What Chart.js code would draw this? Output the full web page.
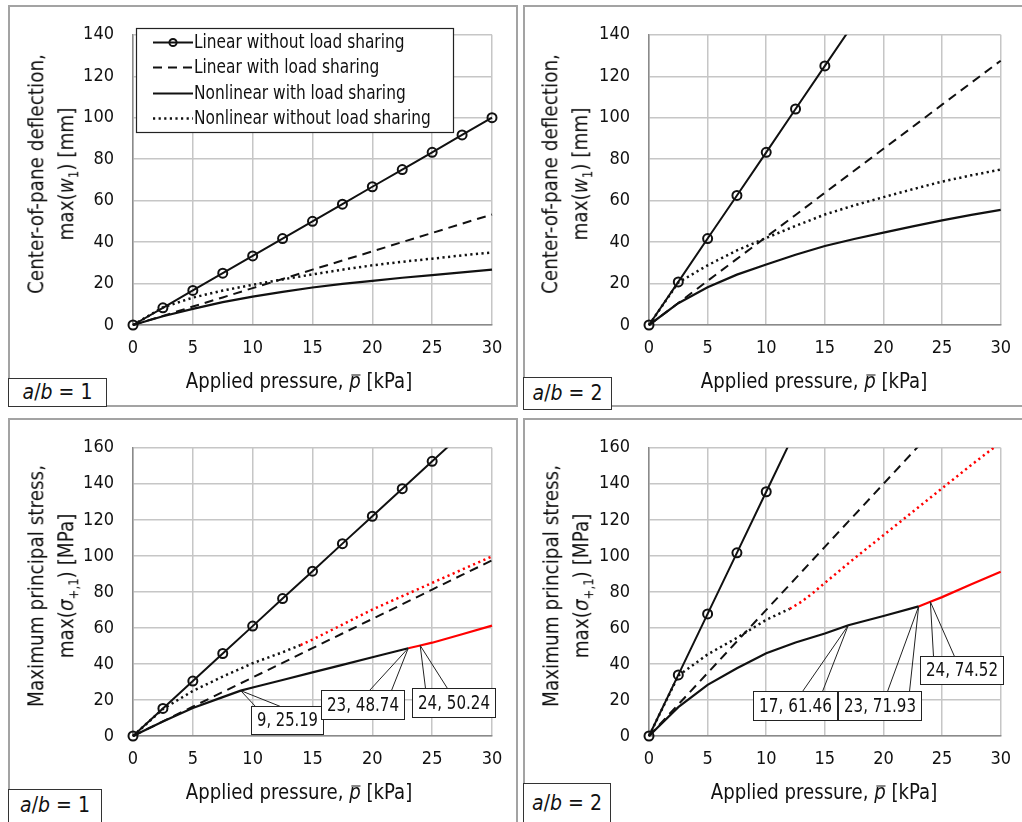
<!DOCTYPE html>
<html>
<head>
<meta charset="utf-8">
<script src="https://cdn.jsdelivr.net/npm/chart.js@4.4.0/dist/chart.umd.min.js"></script>
<style>
  body { margin: 0; width: 1022px; height: 822px; position: relative; overflow: hidden; background: #fff;
         font-family: 'Liberation Sans Narrow', 'Arial Narrow', 'DejaVu Sans Condensed', sans-serif; color: #111; }
  .frame { position: absolute; border: 2px solid #a3a3a3; box-sizing: border-box; }
  canvas { position: absolute; }
  .ytitle { position: absolute; transform: translate(-50%, -50%) rotate(-90deg) scaleX(0.93); white-space: nowrap;
            text-align: center; font-size: 22px; line-height: 30px; }
  .xtitle { position: absolute; transform: translate(-50%, -50%) scaleX(0.915); white-space: nowrap; font-size: 22px; }
  .ratio { position: absolute; border: 1.5px solid #333; box-sizing: border-box; background: #fff;
           font-size: 21px; text-align: center; }
  .pbar { position: relative; font-style: italic; }
  .pbar::after { content: ''; position: absolute; left: 0.12em; right: 0; top: 0.3em; border-top: 1.5px solid #111; }
  sub { font-size: 14px; }
</style>
</head>
<body>
<div class="frame" style="left:8px;top:5px;width:510px;height:402px"></div>
<div class="frame" style="left:523px;top:5px;width:501px;height:402px"></div>
<div class="frame" style="left:8px;top:418px;width:510px;height:406px"></div>
<div class="frame" style="left:523px;top:418px;width:501px;height:406px"></div>

<canvas id="c1" width="510" height="402" style="left:8px;top:5px"></canvas>
<canvas id="c2" width="501" height="402" style="left:523px;top:5px"></canvas>
<canvas id="c3" width="510" height="406" style="left:8px;top:418px"></canvas>
<canvas id="c4" width="501" height="406" style="left:523px;top:418px"></canvas>

<div class="ytitle" style="left:55px;top:174px">Center-of-pane deflection,<br>max(<i>w</i><sub>1</sub>) [mm]</div>
<div class="ytitle" style="left:569px;top:174px">Center-of-pane deflection,<br>max(<i>w</i><sub>1</sub>) [mm]</div>
<div class="ytitle" style="left:55px;top:586px">Maximum principal stress,<br>max(<i>σ</i><sub>+,1</sub>) [MPa]</div>
<div class="ytitle" style="left:570px;top:586px">Maximum principal stress,<br>max(<i>σ</i><sub>+,1</sub>) [MPa]</div>

<div class="xtitle" style="left:299px;top:380px">Applied pressure, <span class="pbar">p</span> [kPa]</div>
<div class="xtitle" style="left:814px;top:380px">Applied pressure, <span class="pbar">p</span> [kPa]</div>
<div class="xtitle" style="left:299px;top:791px">Applied pressure, <span class="pbar">p</span> [kPa]</div>
<div class="xtitle" style="left:824px;top:791px">Applied pressure, <span class="pbar">p</span> [kPa]</div>

<div class="ratio" style="left:8px;top:378px;width:99px;height:29px;line-height:27px"><i>a</i>/<i>b</i> = 1</div>
<div class="ratio" style="left:523px;top:377px;width:89px;height:33px;line-height:31px"><i>a</i>/<i>b</i> = 2</div>
<div class="ratio" style="left:8px;top:789px;width:94px;height:40px;line-height:30px"><i>a</i>/<i>b</i> = 1</div>
<div class="ratio" style="left:523px;top:783px;width:88px;height:45px;line-height:38px"><i>a</i>/<i>b</i> = 2</div>

<script>
// applied pressure steps [kPa]
const pLin = [0, 2.5, 5, 7.5, 10, 12.5, 15, 17.5, 20, 22.5, 25, 27.5, 30];

// center-of-pane deflection [mm], a/b = 1
const w1LinNoShare = [0, 8.3, 16.7, 25, 33.3, 41.7, 50, 58.3, 66.7, 75, 83.3, 91.7, 100];
const w1LinShare   = [0, 4.4, 8.9, 13.3, 17.8, 22.2, 26.7, 31.1, 35.5, 40, 44.4, 48.9, 53.3];
const w1NlShare    = [0, 4.2, 7.8, 11, 13.7, 16, 18.1, 19.8, 21.3, 22.8, 24.1, 25.4, 26.7];
const w1NlNoShare  = [0, 8.5, 13.2, 16.6, 19.4, 22, 24.4, 26.7, 28.8, 30.5, 32, 33.6, 35];

// center-of-pane deflection [mm], a/b = 2
const w2LinNoShare = [0, 20.8, 41.7, 62.5, 83.3, 104.2, 125, 145.8];
const w2LinShare   = [0, 10.6, 21.3, 31.9, 42.5, 53.1, 63.8, 74.4, 85, 95.6, 106.3, 116.9, 127.5];
const w2NlShare    = [0, 10.5, 18.2, 24.3, 29.2, 33.9, 38.1, 41.5, 44.6, 47.6, 50.5, 53.1, 55.5];
const w2NlNoShare  = [0, 20.5, 28.8, 36, 42, 47.8, 53.3, 57.7, 61.7, 65.5, 69.2, 72.2, 75];

// maximum principal stress [MPa], a/b = 1
const s1LinNoShare = [0, 15.3, 30.5, 45.8, 61, 76.3, 91.5, 106.8, 122, 137.3, 152.5, 167.8];
const s1LinShare   = [0, 8.1, 16.3, 24.4, 32.5, 40.6, 48.8, 56.9, 65, 73.1, 81.3, 89.4, 97.5];
const pNl1         = [0, 2.5, 5, 7.5, 9, 10, 12.5, 15, 17.5, 20, 22.5, 23, 24, 25, 27.5, 30];
const s1NlShare    = [0, 8, 15.5, 21.6, 25.19, 26.9, 31.1, 35.3, 39.5, 43.7, 47.9, 48.74, 50.24, 51.8, 56.5, 61.3];
const pNo1         = [0, 2.5, 5, 7.5, 10, 12.5, 14, 15, 17.5, 20, 22.5, 25, 27.5, 30];
const s1NlNoShare  = [0, 15, 25, 33, 40.4, 46.5, 50.5, 53.5, 61.8, 70.2, 77.6, 85, 92.4, 99.7];

// maximum principal stress [MPa], a/b = 2
const s2LinNoShare = [0, 33.9, 67.8, 101.7, 135.6, 169.5];
const s2LinShare   = [0, 17.5, 35, 52.5, 70, 87.5, 105, 122.5, 140, 157.5, 175];
const pNl2         = [0, 2.5, 5, 7.5, 10, 12.5, 15, 17, 20, 23, 24, 25, 27.5, 30];
const s2NlShare    = [0, 16, 28.4, 37.6, 45.9, 51.9, 56.9, 61.46, 66.6, 71.93, 74.52, 77.1, 84.2, 91.2];
const pNo2         = [0, 2.5, 5, 7.5, 10, 12, 13, 14, 15, 17.5, 20, 22.5, 25, 27.5, 30];
const s2NlNoShare  = [0, 33.5, 45.3, 54.5, 64.5, 70.6, 74.5, 79.5, 85, 98.5, 111.5, 124.5, 137.5, 150.5, 163];

// pressure from which the nonlinear curves turn red
const redNlShare1 = 23, redNlNoShare1 = 14;
const redNlShare2 = 23, redNlNoShare2 = 12;

// labelled points on the nonlinear-with-sharing curves
const marks1 = [9, 23, 24];
const marks2 = [17, 23, 24];

const seriesNames = ['Linear without load sharing', 'Linear with load sharing',
                     'Nonlinear with load sharing', 'Nonlinear without load sharing'];
const yTicks1 = [0, 140, 20];
const yTicks2 = [0, 160, 20];

const FONT = "'Liberation Sans Narrow', 'Arial Narrow', 'DejaVu Sans Condensed', sans-serif";
const CLIP = { left: 8, top: 0, right: 8, bottom: 8 };

function pts(xs, ys) {
  const n = Math.min(xs.length, ys.length);
  const out = [];
  for (let i = 0; i < n; i++) out.push({ x: xs[i], y: ys[i] });
  return out;
}

function redFrom(limit, base) {
  return ctx => (limit != null && ctx.p0.parsed.x >= limit) ? '#ff0000' : base;
}

function buildSets(linNo, linSh, nlShX, nlSh, nlNoX, nlNo, redSh, redNo) {
  return [
    { label: seriesNames[0], data: pts(pLin, linNo), borderColor: '#111', borderWidth: 2,
      pointRadius: 4.5, pointBorderWidth: 2, pointBorderColor: '#111', pointBackgroundColor: 'rgba(0,0,0,0)',
      clip: CLIP },
    { label: seriesNames[1], data: pts(pLin, linSh), borderColor: '#111', borderWidth: 2,
      borderDash: [9, 6], pointRadius: 0, clip: CLIP },
    { label: seriesNames[2], data: pts(nlShX, nlSh), borderColor: '#111', borderWidth: 2.2,
      pointRadius: 0, clip: CLIP, segment: { borderColor: redFrom(redSh, '#111') } },
    { label: seriesNames[3], data: pts(nlNoX, nlNo), borderColor: '#111', borderWidth: 2.5,
      borderDash: [2.2, 3.4], pointRadius: 0, clip: CLIP, segment: { borderColor: redFrom(redNo, '#111') } }
  ];
}

// squeezed text to imitate a narrow face
function fillNarrow(ctx, text, x, y, k) {
  ctx.save();
  ctx.translate(x, y);
  ctx.scale(k, 1);
  ctx.fillText(text, 0, 0);
  ctx.restore();
}

// boxed value labels with a wedge-shaped leader back to the point
function calloutPlugin(xs, ys, marks, boxes) {
  return {
    id: 'callouts',
    afterDatasetsDraw(chart) {
      const ctx = chart.ctx, sx = chart.scales.x, sy = chart.scales.y;
      ctx.save();
      marks.forEach((m, k) => {
        const i = xs.indexOf(m);
        const b = boxes[k];
        const ax = sx.getPixelForValue(xs[i]), ay = sy.getPixelForValue(ys[i]);
        const bx = Math.round(ax + b.dx) + 0.5, by = Math.round(ay + b.dy) + 0.5;
        ctx.strokeStyle = '#222';
        ctx.lineWidth = 1;
        ctx.beginPath();
        ctx.moveTo(bx + b.b0, by);
        ctx.lineTo(ax, ay);
        ctx.lineTo(bx + b.b1, by);
        ctx.stroke();
        ctx.fillStyle = '#fff';
        ctx.fillRect(bx, by, b.w, b.h);
        ctx.strokeRect(bx, by, b.w, b.h);
        ctx.fillStyle = '#111';
        ctx.font = '19px ' + FONT;
        ctx.textAlign = 'center';
        ctx.textBaseline = 'middle';
        const text = xs[i] + ', ' + ys[i].toFixed(2);
        const fit = Math.min(1, (b.w - 11) / ctx.measureText(text).width);
        fillNarrow(ctx, text, bx + b.w / 2, by + b.h / 2 + 1, fit);
      });
      ctx.restore();
    }
  };
}

// legend box drawn inside the plot area
const legendPlugin = {
  id: 'boxLegend',
  afterDraw(chart) {
    const ctx = chart.ctx;
    const L = 128, T = 23, W = 317, H = 104, rowH = 25.5;
    ctx.save();
    ctx.fillStyle = '#fff';
    ctx.fillRect(L, T, W, H);
    ctx.strokeStyle = '#222';
    ctx.lineWidth = 1.2;
    ctx.strokeRect(L + 0.5, T + 0.5, W, H);
    chart.data.datasets.forEach((ds, i) => {
      const y = Math.round(T + 13.5 + i * rowH) + 0.5;
      ctx.strokeStyle = '#111';
      ctx.lineWidth = ds.borderWidth;
      ctx.setLineDash(ds.borderDash || []);
      ctx.beginPath();
      ctx.moveTo(145, y);
      ctx.lineTo(185, y);
      ctx.stroke();
      ctx.setLineDash([]);
      if (ds.pointRadius) {
        ctx.lineWidth = 2;
        ctx.beginPath();
        ctx.arc(165, y, 3.6, 0, Math.PI * 2);
        ctx.stroke();
      }
      ctx.fillStyle = '#111';
      ctx.font = '19px ' + FONT;
      ctx.textAlign = 'left';
      ctx.textBaseline = 'middle';
      fillNarrow(ctx, ds.label, 186, y + 1, 0.9);
    });
    ctx.restore();
  }
};

function makeChart(id, datasets, yt, geo, extra) {
  const tickFont = { family: FONT, size: 18 };
  new Chart(document.getElementById(id), {
    type: 'line',
    data: { datasets },
    options: {
      responsive: false,
      animation: false,
      layout: { padding: { left: 0, top: geo.top, right: geo.right, bottom: 0 } },
      plugins: { legend: { display: false }, tooltip: { enabled: false } },
      scales: {
        x: {
          type: 'linear', min: 0, max: 30,
          ticks: { stepSize: 5, padding: 13, color: '#111', font: tickFont, maxRotation: 0 },
          grid: { color: '#c6c6c6', lineWidth: 1.5, drawTicks: false },
          border: { color: '#8a8a8a', width: 1.5 },
          afterFit: s => { s.height = geo.xh; }
        },
        y: {
          min: yt[0], max: yt[1],
          ticks: { stepSize: yt[2], padding: 19, color: '#111', font: tickFont },
          grid: { color: '#c6c6c6', lineWidth: 1.5, drawTicks: false },
          border: { color: '#8a8a8a', width: 1.5 },
          afterFit: s => { s.width = geo.yw; }
        }
      }
    },
    plugins: extra
  });
}

makeChart('c1',
  buildSets(w1LinNoShare, w1LinShare, pLin, w1NlShare, pLin, w1NlNoShare, null, null),
  yTicks1, { top: 20, right: 26, yw: 125, xh: 82 }, [legendPlugin]);

makeChart('c2',
  buildSets(w2LinNoShare, w2LinShare, pLin, w2NlShare, pLin, w2NlNoShare, null, null),
  yTicks1, { top: 20, right: 16, yw: 126, xh: 82 }, []);

makeChart('c3',
  buildSets(s1LinNoShare, s1LinShare, pNl1, s1NlShare, pNo1, s1NlNoShare, redNlShare1, redNlNoShare1),
  yTicks2, { top: 18, right: 26, yw: 125, xh: 88 },
  [calloutPlugin(pNl1, s1NlShare, marks1, [
    { dx: 10, dy: 15, w: 72, h: 28, b0: 4, b1: 29 },
    { dx: -87, dy: 42, w: 83, h: 29, b0: 48, b1: 70 },
    { dx: -8, dy: 42, w: 83, h: 29, b0: 13, b1: 35 }
  ])]);

makeChart('c4',
  buildSets(s2LinNoShare, s2LinShare, pNl2, s2NlShare, pNo2, s2NlNoShare, redNlShare2, redNlNoShare2),
  yTicks2, { top: 18, right: 16, yw: 126, xh: 88 },
  [calloutPlugin(pNl2, s2NlShare, marks2, [
    { dx: -95, dy: 66, w: 84, h: 29, b0: 49, b1: 69 },
    { dx: -81, dy: 85, w: 83, h: 29, b0: 49, b1: 71 },
    { dx: -10, dy: 54, w: 83, h: 28, b0: 13, b1: 34 }
  ])]);
</script>
</body>
</html>
